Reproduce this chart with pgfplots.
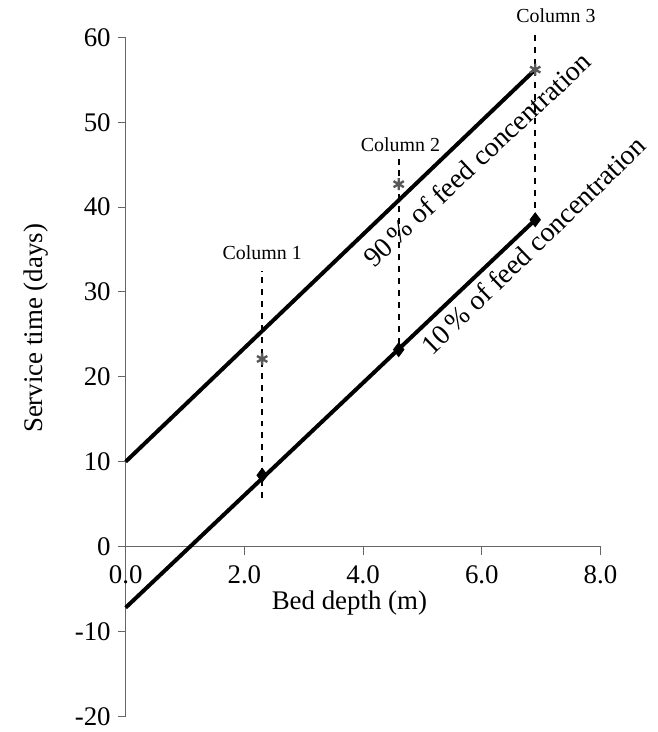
\documentclass[border=0pt]{standalone}
\usepackage{fontspec}
\setmainfont{Liberation Serif}
\usepackage{pgfplots}
\pgfplotsset{compat=1.18}

\begin{document}
\begin{tikzpicture}
\begin{axis}[
    scale only axis,
    width=238.5pt, height=341pt,
    xmin=0, xmax=8,
    ymin=-20, ymax=60,
    axis y line=left,
    axis x line=middle,
    axis line style={gray!80!black, line width=0.5pt, -},
    xtick={0,2,4,6,8},
    ytick={-20,-10,0,10,20,30,40,50,60},
    tick style={gray!80!black, line width=0.5pt},
    major tick length=4pt,
    xtick align=outside, ytick align=outside,
    x tick label style={/pgf/number format/.cd, fixed, fixed zerofill, precision=1, /tikz/.cd, font=\fontsize{13.5}{15}\selectfont, yshift=-2pt},
    y tick label style={font=\fontsize{13.5}{15}\selectfont},
    /pgf/number format/assume math mode=true,
    clip=false,
]
% page extent as in the reference
\path (axis cs:-2.117,-21.45) rectangle (axis cs:8.7,64.4);

% fitted lines
\addplot[black, line width=2pt] coordinates {(0,10) (6.9,56.2)};
\addplot[black, line width=2pt] coordinates {(0,-7.2) (6.9,38.5)};

% column guides
\addplot[black, dashed, line width=0.8pt] coordinates {(2.3,5.7) (2.3,32.5)};
\addplot[black, dashed, line width=0.8pt] coordinates {(4.6,23.9) (4.6,46.2)};
\addplot[black, dashed, line width=0.8pt] coordinates {(6.9,38.5) (6.9,60.3)};

% measured points
\addplot[only marks, mark=diamond*, mark size=3.5pt, black] coordinates {(2.3,8.4) (4.6,23.2) (6.9,38.5)};
\addplot[only marks, mark=asterisk, mark size=3pt, gray!70!black, line width=1.2pt] coordinates {(2.3,22.1) (4.6,42.7) (6.9,56.2)};

\node[font=\fontsize{10}{12}\selectfont] at (axis cs:2.3,34.6) {Column 1};
\node[font=\fontsize{10}{12}\selectfont] at (axis cs:4.63,47.3) {Column 2};
\node[font=\fontsize{10}{12}\selectfont] at (axis cs:7.25,62.6) {Column 3};

\node[rotate=43, font=\fontsize{14}{16}\selectfont] at (axis cs:5.92,45.6) {90\,\% of feed concentration};
\node[rotate=44, font=\fontsize{14}{16}\selectfont] at (axis cs:6.87,35.5) {10\,\% of feed concentration};

% tick label at the origin, which axis lines=middle leaves out
\node[font=\fontsize{13.5}{15}\selectfont, anchor=north, yshift=-6pt] at (axis cs:0,0) {0.0};

\node[font=\fontsize{13.5}{15}\selectfont] at (axis cs:3.77,-6.6) {Bed depth (m)};
\node[rotate=90, xshift=0pt, yshift=45pt, font=\fontsize{13.5}{15}\selectfont] at (axis cs:0,25.7) {Service time (days)};
\end{axis}
\end{tikzpicture}
\end{document}
